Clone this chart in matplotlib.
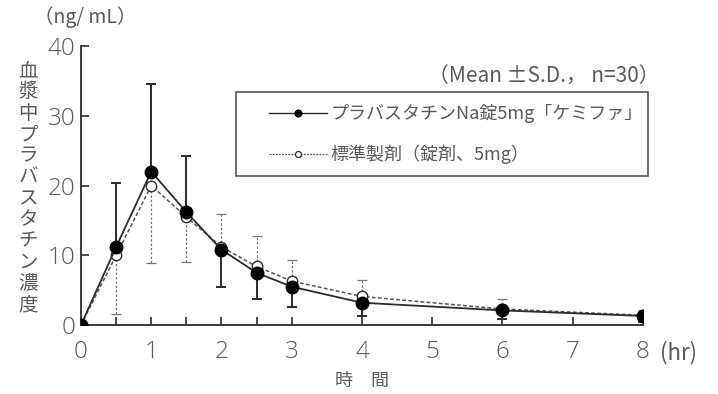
import matplotlib
matplotlib.use("Agg")
import matplotlib.pyplot as plt
from matplotlib.lines import Line2D
from matplotlib.legend_handler import HandlerLine2D

plt.rcParams['font.family'] = ['Noto Sans CJK JP', 'DejaVu Sans']

# 時間 (hr)
hours = [0, 0.5, 1, 1.5, 2, 2.5, 3, 4, 6, 8]

# プラバスタチンNa錠5mg「ケミファ」 mean and one-sided SD
test_mean = [0, 11.2, 22.0, 16.2, 10.8, 7.5, 5.5, 3.2, 2.1, 1.3]
test_err_up = [0, 9.2, 12.6, 8.0, 0, 0, 0, 0, 0, 0]
test_err_down = [0, 0, 0, 0, 5.4, 3.8, 2.9, 1.9, 1.3, 0.8]

# 標準製剤 (錠剤、5mg)
ref_mean = [0, 10.0, 20.0, 15.5, 11.2, 8.4, 6.3, 4.1, 2.3, 1.4]
ref_err_up = [0, 0, 0, 0, 4.7, 4.4, 3.0, 2.3, 1.4, 0.7]
ref_err_down = [0, 8.4, 11.1, 6.5, 0, 0, 0, 0, 0, 0]

xticks = [0, 0.5, 1, 1.5, 2, 2.5, 3, 4, 5, 6, 7, 8]
xticklabels = ['0', '', '1', '', '2', '', '3', '4', '5', '6', '7', '8']
yticks = [0, 10, 20, 30, 40]

label_test = "プラバスタチンNa錠5mg「ケミファ」"
label_ref = "標準製剤（錠剤、5mg）"

txt = '#5a5a5a'
ink = '#2b2b2b'

fig = plt.figure(figsize=(7.18, 3.94), dpi=100)
ax = fig.add_axes([0.1128, 0.175, 0.7827, 0.708])

ref_bars = ax.errorbar(hours, ref_mean, yerr=[ref_err_down, ref_err_up], fmt='none',
                       ecolor='#777777', elinewidth=0.9, capsize=3.5, capthick=0.9,
                       zorder=2)
for lc in ref_bars.lines[2]:
    lc.set_linestyle((0, (2, 1.5)))
ax.errorbar(hours, test_mean, yerr=[test_err_down, test_err_up], fmt='none',
            ecolor=ink, elinewidth=1.4, capsize=3.5, capthick=1.4, zorder=2)

ax.plot(hours, ref_mean, color='#555555', lw=1.1, ls=(0, (2.5, 1.5)),
        marker='o', ms=7.5, mfc='white', mec=ink, mew=1.0, zorder=3)
ax.plot(hours, test_mean, color=ink, lw=1.3, ls='-',
        marker='o', ms=9, mfc='black', mec='black', zorder=4)

ax.set_xlim(0, 8)
ax.set_ylim(0, 40)
ax.set_xticks(xticks)
ax.set_xticklabels(xticklabels)
ax.set_yticks(yticks)
for s in ['top', 'right']:
    ax.spines[s].set_visible(False)
for s in ['left', 'bottom']:
    ax.spines[s].set_color(ink)
    ax.spines[s].set_linewidth(1.3)
    ax.spines[s].set_clip_on(False)
ax.tick_params(direction='in', color=ink, width=1.2, length=6,
               labelsize=17.5, labelcolor=txt)
ax.tick_params(axis='x', pad=11)
ax.tick_params(axis='y', pad=4)
for t in ax.get_xticklabels() + ax.get_yticklabels():
    t.set_fontfamily(['Open Sans', 'DejaVu Sans'])
    t.set_fontweight('light')

# legend with smaller markers than the plot
h_test = Line2D([], [], color=ink, lw=1.0, marker='o', ms=4.8, mfc='black', mec='black')
h_ref = Line2D([], [], color='#555555', lw=0.9, ls=(0, (1.5, 1)), marker='o', ms=4.3,
               mfc='white', mec=ink, mew=0.9)
leg = ax.legend([h_test, h_ref], [label_test, label_ref], loc='upper left',
                bbox_to_anchor=(0.276, 0.538, 0.733, 0.297), mode='expand',
                frameon=True, fancybox=False, edgecolor=ink, fontsize=13,
                handlelength=4.4, handletextpad=0.17, labelspacing=1.2,
                borderpad=0.65, labelcolor=txt, borderaxespad=0,
                handler_map={Line2D: HandlerLine2D(xpad=1.2)})
leg.get_frame().set_linewidth(1.2)

fig.text(0.048, 0.957, "（ng/ mL）", ha='left', va='center', fontsize=14, color=txt)
fig.text(0.039, 0.523, "\n".join("血漿中プラバスタチン濃度"), ha='center', va='center',
         fontsize=14, color=txt, linespacing=1.02)
ax.text(1.03, 0.895, "（Mean ±S.D.， n=30）", transform=ax.transAxes,
        ha='right', va='center', fontsize=15, color=txt)
ax.text(1.03, -0.1, "(hr)", transform=ax.transAxes, ha='left', va='center',
        fontsize=16, color=txt)
ax.text(0.5, -0.2, "時　間", transform=ax.transAxes, ha='center', va='center',
        fontsize=13, color=txt)

fig.savefig("out.png", dpi=100)
